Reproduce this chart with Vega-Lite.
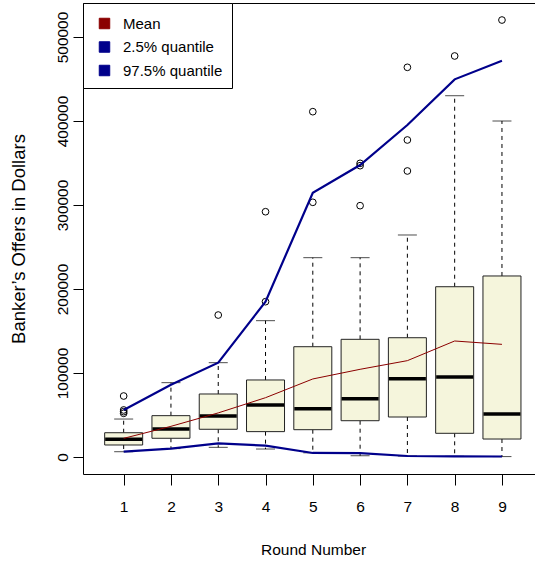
{
  "$schema": "https://vega.github.io/schema/vega-lite/v6.json",
  "width": 453,
  "height": 471,
  "autosize": {"type": "none"},
  "padding": {"left": 83, "top": 3, "right": 0, "bottom": 92},
  "background": "white",
  "datasets": {
    "boxes": [
      {"round": 1, "lo": 6300, "q1": 14300, "med": 21000, "q3": 28900, "hi": 45200},
      {"round": 2, "lo": 10000, "q1": 22300, "med": 33300, "q3": 49200, "hi": 88500},
      {"round": 3, "lo": 11500, "q1": 33000, "med": 48800, "q3": 75000, "hi": 112300},
      {"round": 4, "lo": 9500, "q1": 30200, "med": 61900, "q3": 91700, "hi": 162300},
      {"round": 5, "lo": 5000, "q1": 32500, "med": 57500, "q3": 131300, "hi": 237300},
      {"round": 6, "lo": 1500, "q1": 43200, "med": 69400, "q3": 140100, "hi": 237300},
      {"round": 7, "lo": 1200, "q1": 47600, "med": 93200, "q3": 142000, "hi": 264300},
      {"round": 8, "lo": 800, "q1": 28200, "med": 95200, "q3": 202700, "hi": 430100},
      {"round": 9, "lo": 500, "q1": 21400, "med": 51200, "q3": 215500, "hi": 400000}
    ],
    "outliers": [
      {"round": 1, "value": 72600},
      {"round": 1, "value": 56000},
      {"round": 1, "value": 54000},
      {"round": 1, "value": 52000},
      {"round": 3, "value": 169000},
      {"round": 4, "value": 184900},
      {"round": 4, "value": 292000},
      {"round": 5, "value": 303200},
      {"round": 5, "value": 411100},
      {"round": 6, "value": 299200},
      {"round": 6, "value": 346800},
      {"round": 6, "value": 349600},
      {"round": 7, "value": 340500},
      {"round": 7, "value": 377400},
      {"round": 7, "value": 463900},
      {"round": 8, "value": 477400},
      {"round": 9, "value": 520200}
    ],
    "lines": [
      {"round": 1, "series": "Mean", "value": 22200},
      {"round": 2, "series": "Mean", "value": 36500},
      {"round": 3, "series": "Mean", "value": 52500},
      {"round": 4, "series": "Mean", "value": 70600},
      {"round": 5, "series": "Mean", "value": 92900},
      {"round": 6, "series": "Mean", "value": 104400},
      {"round": 7, "series": "Mean", "value": 114700},
      {"round": 8, "series": "Mean", "value": 138100},
      {"round": 9, "series": "Mean", "value": 134100},
      {"round": 1, "series": "2.5% quantile", "value": 6300},
      {"round": 2, "series": "2.5% quantile", "value": 9900},
      {"round": 3, "series": "2.5% quantile", "value": 16300},
      {"round": 4, "series": "2.5% quantile", "value": 13500},
      {"round": 5, "series": "2.5% quantile", "value": 4800},
      {"round": 6, "series": "2.5% quantile", "value": 4500},
      {"round": 7, "series": "2.5% quantile", "value": 1200},
      {"round": 8, "series": "2.5% quantile", "value": 800},
      {"round": 9, "series": "2.5% quantile", "value": 600},
      {"round": 1, "series": "97.5% quantile", "value": 55900},
      {"round": 2, "series": "97.5% quantile", "value": 86000},
      {"round": 3, "series": "97.5% quantile", "value": 112300},
      {"round": 4, "series": "97.5% quantile", "value": 184900},
      {"round": 5, "series": "97.5% quantile", "value": 314600},
      {"round": 6, "series": "97.5% quantile", "value": 347600},
      {"round": 7, "series": "97.5% quantile", "value": 395200},
      {"round": 8, "series": "97.5% quantile", "value": 449600},
      {"round": 9, "series": "97.5% quantile", "value": 471800}
    ]
  },
  "layer": [
    {
      "data": {"name": "boxes"},
      "mark": {"type": "rule", "color": "black", "strokeWidth": 1, "strokeDash": [4, 4]},
      "encoding": {
        "x": {
          "field": "round", "type": "quantitative",
          "scale": {"domain": [0.14, 9.72], "nice": false, "zero": false, "padding": 0},
          "axis": {
            "title": "Round Number",
            "titleX": 230,
            "values": [1, 2, 3, 4, 5, 6, 7, 8, 9],
            "format": "d",
            "domain": false,
            "grid": false,
            "tickSize": 11,
            "labelPadding": 14,
            "labelFlush": false,
            "titlePadding": 28
          }
        },
        "y": {
          "field": "q3", "type": "quantitative",
          "scale": {"domain": [-20240, 540480], "nice": false, "zero": false, "padding": 0},
          "axis": {
            "title": "Banker\u2019s Offers in Dollars",
            "titleFontSize": 18.5,
            "values": [0, 100000, 200000, 300000, 400000, 500000],
            "format": "d",
            "domain": false,
            "grid": false,
            "tickSize": 10,
            "labelAngle": -90,
            "labelPadding": 3,
            "labelFlush": false,
            "titlePadding": 27
          }
        },
        "y2": {"field": "hi"}
      }
    },
    {
      "data": {"name": "boxes"},
      "mark": {"type": "rule", "color": "black", "strokeWidth": 1, "strokeDash": [4, 4]},
      "encoding": {
        "x": {"field": "round", "type": "quantitative"},
        "y": {"field": "q1", "type": "quantitative"},
        "y2": {"field": "lo"}
      }
    },
    {
      "data": {"name": "boxes"},
      "mark": {"type": "tick", "orient": "horizontal", "color": "black", "size": 19, "thickness": 1},
      "encoding": {
        "x": {"field": "round", "type": "quantitative"},
        "y": {"field": "hi", "type": "quantitative"}
      }
    },
    {
      "data": {"name": "boxes"},
      "mark": {"type": "tick", "orient": "horizontal", "color": "black", "size": 19, "thickness": 1},
      "encoding": {
        "x": {"field": "round", "type": "quantitative"},
        "y": {"field": "lo", "type": "quantitative"}
      }
    },
    {
      "data": {"name": "boxes"},
      "mark": {"type": "bar", "size": 38, "fill": "#F5F5DC", "stroke": "#222222", "strokeWidth": 1, "orient": "vertical"},
      "encoding": {
        "x": {"field": "round", "type": "quantitative"},
        "y": {"field": "q1", "type": "quantitative"},
        "y2": {"field": "q3"}
      }
    },
    {
      "data": {"name": "boxes"},
      "mark": {"type": "tick", "orient": "horizontal", "color": "black", "size": 37, "thickness": 3.5, "opacity": 1},
      "encoding": {
        "x": {"field": "round", "type": "quantitative"},
        "y": {"field": "med", "type": "quantitative"}
      }
    },
    {
      "data": {"name": "outliers"},
      "mark": {"type": "point", "shape": "circle", "filled": false, "stroke": "black", "strokeWidth": 1, "size": 45, "opacity": 1},
      "encoding": {
        "x": {"field": "round", "type": "quantitative"},
        "y": {"field": "value", "type": "quantitative"}
      }
    },
    {
      "data": {"name": "lines"},
      "transform": [{"filter": "datum.series === 'Mean'"}],
      "mark": {"type": "line", "strokeWidth": 1},
      "encoding": {
        "x": {"field": "round", "type": "quantitative"},
        "y": {"field": "value", "type": "quantitative"},
        "color": {
          "field": "series", "type": "nominal",
          "scale": {"domain": ["Mean", "2.5% quantile", "97.5% quantile"], "range": ["#8B0000", "#00008B", "#00008B"]},
          "legend": {
            "title": " ",
            "titleFontSize": 4,
            "titlePadding": 0,
            "orient": "none",
            "legendX": 0,
            "legendY": 0,
            "direction": "vertical",
            "strokeColor": "black",
            "fillColor": "white",
            "padding": 9,
            "rowPadding": 7.5,
            "symbolType": "square",
            "symbolSize": 110,
            "symbolOffset": 5,
            "symbolStrokeWidth": 1,
            "symbolStrokeColor": "black",
            "labelFont": "Liberation Sans",
            "labelFontSize": 15,
            "labelColor": "black",
            "labelOffset": 11,
            "labelLimit": 300,
            "cornerRadius": 0,
            "encode": {
              "symbols": {
                "update": {
                  "fill": {"scale": "color", "field": "value"},
                  "stroke": {"value": "black"},
                  "strokeWidth": {"value": 1},
                  "opacity": {"value": 1}
                }
              }
            }
          }
        }
      }
    },
    {
      "data": {"name": "lines"},
      "transform": [{"filter": "datum.series !== 'Mean'"}],
      "mark": {"type": "line", "strokeWidth": 2.2},
      "encoding": {
        "x": {"field": "round", "type": "quantitative"},
        "y": {"field": "value", "type": "quantitative"},
        "color": {"field": "series", "type": "nominal"}
      }
    }
  ],
  "config": {
    "view": {"stroke": "black", "strokeWidth": 1},
    "font": "Liberation Sans",
    "axis": {
      "labelFont": "Liberation Sans",
      "labelFontSize": 15.5,
      "labelColor": "black",
      "titleFont": "Liberation Sans",
      "titleFontSize": 15.5,
      "titleFontWeight": "normal",
      "titleColor": "black",
      "tickColor": "black",
      "tickWidth": 1
    }
  }
}
